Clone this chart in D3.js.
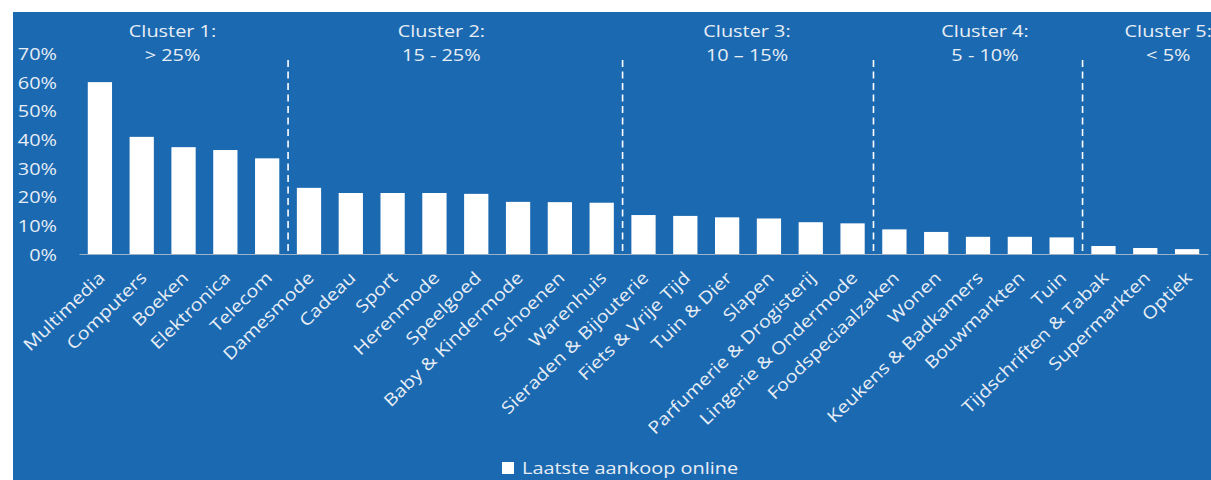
<!DOCTYPE html>
<html>
<head>
<meta charset="utf-8">
<script src="https://cdn.jsdelivr.net/npm/d3@7/dist/d3.min.js"></script>
<style>
  html, body { margin: 0; padding: 0; background: #ffffff; }
  svg { display: block; }
  text { font-family: "Open Sans", "Noto Sans", sans-serif; }
</style>
</head>
<body>
<svg id="chart" width="1211" height="480"></svg>
<script>
// ---- data ----
const categories = [
  "Multimedia", "Computers", "Boeken", "Elektronica", "Telecom",
  "Damesmode", "Cadeau", "Sport", "Herenmode", "Speelgoed", "Baby & Kindermode", "Schoenen", "Warenhuis",
  "Sieraden & Bijouterie", "Fiets & Vrije Tijd", "Tuin & Dier", "Slapen", "Parfumerie & Drogisterij", "Lingerie & Ondermode",
  "Foodspeciaalzaken", "Wonen", "Keukens & Badkamers", "Bouwmarkten", "Tuin",
  "Tijdschriften & Tabak", "Supermarkten", "Optiek"
];
const laatsteAankoopOnline = [
  60.0, 40.9, 37.3, 36.3, 33.4,
  23.1, 21.3, 21.3, 21.3, 21.0, 18.2, 18.1, 17.9,
  13.6, 13.3, 12.8, 12.4, 11.1, 10.7,
  8.6, 7.7, 6.0, 6.0, 5.8,
  2.8, 2.1, 1.7
];
const yTicks = [0, 10, 20, 30, 40, 50, 60, 70];
const clusterNames = ["Cluster 1:", "Cluster 2:", "Cluster 3:", "Cluster 4:", "Cluster 5:"];
const clusterRanges = ["> 25%", "15 - 25%", "10 \u2013 15%", "5 - 10%", "< 5%"];
const clusterFirstIndex = [0, 5, 13, 19, 24];
const clusterLastIndex = [4, 12, 18, 23, 26];
const seriesName = "Laatste aankoop online";

// ---- layout ----
const W = 1211, H = 480;
const SX = 1.17;                 // horizontal text stretch of the original
const textColor = "#e8eef6";
const blue = "#1b69b0";
const labelNudge = [-11, -14, -1, 7, 23];

const svg = d3.select("#chart");
svg.append("rect").attr("x", 0).attr("y", 0).attr("width", W).attr("height", H).attr("fill", "#ffffff");
svg.append("rect").attr("x", 13).attr("y", 12).attr("width", W - 13).attr("height", H - 12).attr("fill", blue);

const x = d3.scaleBand().domain(categories).range([79, 1208]).paddingInner(0.42).paddingOuter(0.21);
const y = d3.scaleLinear().domain([0, 70]).range([254, 53.5]);

// bars
svg.append("g").selectAll("rect").data(categories).join("rect")
  .attr("x", d => x(d))
  .attr("y", (d, i) => y(laatsteAankoopOnline[i]))
  .attr("width", x.bandwidth())
  .attr("height", (d, i) => y(0) - y(laatsteAankoopOnline[i]))
  .attr("fill", "#ffffff");

// x axis (baseline + rotated labels)
const xAxis = svg.append("g").attr("transform", `translate(0,${y(0)})`)
  .call(d3.axisBottom(x).tickSize(0).tickSizeOuter(0));
xAxis.select(".domain").attr("stroke", "#9db2c9").attr("stroke-width", 1);
xAxis.selectAll(".tick text")
  .attr("x", null).attr("y", null).attr("dy", null)
  .attr("text-anchor", "end")
  .attr("transform", `translate(6,25) rotate(-44) scale(${SX},1)`)
  .attr("fill", textColor)
  .style("font-size", "17px")
  .style("font-family", "'Open Sans', sans-serif");

// y axis
const yAxis = svg.append("g").attr("transform", "translate(57,0)")
  .call(d3.axisLeft(y).tickValues(yTicks).tickFormat(d => d + "%").tickSize(0));
yAxis.select(".domain").remove();
yAxis.selectAll(".tick text")
  .attr("x", null).attr("dy", null).attr("y", 6)
  .attr("text-anchor", "end")
  .attr("transform", `scale(${SX},1)`)
  .attr("fill", textColor)
  .style("font-size", "17px")
  .style("font-family", "'Open Sans', sans-serif");

// cluster separators
const step = x.step();
const sepX = clusterFirstIndex.slice(1).map(i => x(categories[i]) - step * x.paddingInner() / 2);
svg.append("g").selectAll("line").data(sepX).join("line")
  .attr("x1", d => d).attr("x2", d => d)
  .attr("y1", 60).attr("y2", y(0))
  .attr("stroke", "#ffffff").attr("stroke-width", 1.6)
  .attr("stroke-dasharray", "7,4.5");

// cluster labels
const cl = svg.append("g").selectAll("g").data(clusterNames).join("g")
  .attr("transform", (d, i) => {
    const a = x(categories[clusterFirstIndex[i]]) + x.bandwidth() / 2;
    const b = x(categories[clusterLastIndex[i]]) + x.bandwidth() / 2;
    return `translate(${(a + b) / 2 + labelNudge[i]},0)`;
  });
cl.append("text").attr("transform", `translate(0,37) scale(${SX},1)`)
  .attr("text-anchor", "middle").attr("fill", textColor).style("font-size", "17px")
  .text(d => d);
cl.append("text").attr("transform", `translate(0,61) scale(${SX},1)`)
  .attr("text-anchor", "middle").attr("fill", textColor).style("font-size", "17px")
  .text((d, i) => clusterRanges[i]);

// legend
const lg = svg.append("g").attr("transform", "translate(502,462)");
lg.append("rect").attr("width", 12).attr("height", 12).attr("fill", "#ffffff");
lg.append("text").attr("transform", `translate(20,12) scale(${SX},1)`)
  .attr("fill", textColor).style("font-size", "17px").text(seriesName);
</script>
</body>
</html>
